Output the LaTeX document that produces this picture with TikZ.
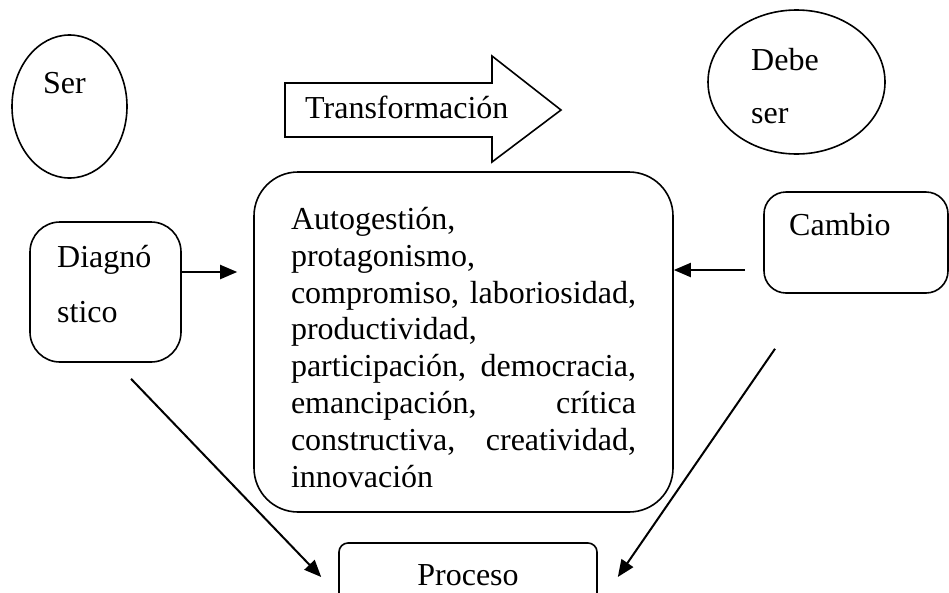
\documentclass[tikz,border=0pt]{standalone}
\usepackage{fontspec}
\setmainfont{Liberation Serif}
\usetikzlibrary{arrows.meta,shapes.geometric}

\tikzset{
  box/.style={draw, line width=1.6pt, inner sep=0pt},
  oval/.style={draw, ellipse, line width=1.6pt, inner sep=0pt},
  lbl/.style={inner sep=0pt, anchor=base west},
  arr/.style={line width=2pt, -{Triangle[length=17pt,width=14pt]}},
}
\newcommand\fillrow[1]{\makebox[345pt][s]{#1}}

\begin{document}
\begin{tikzpicture}[x=1pt, y=-1pt, font=\fontsize{32}{36.9}\selectfont]
    \useasboundingbox (0,0) rectangle (949,592);
    \clip (0,0) rectangle (949,592);

    \node[oval, minimum width=115pt, minimum height=143pt] (ser) at (69.5,106.5) {};
    \node[lbl] (sertxt) at (43,93) {Ser};
    \node[oval, minimum width=177pt, minimum height=144pt] (debe) at (796.5,82) {};
    \node[lbl] (debetxt) at (751,70) {Debe};
    \node[lbl] (debetxtb) at (751,123) {ser};

    \draw[line width=1.6pt] (285,83) -- (492,83) -- (492,56) -- (561,110) -- (492,162) -- (492,137) -- (285,137) -- cycle;
    \node[lbl] (trans) at (305,118) {Transformación};

    \node[box, rounded corners=44pt, minimum width=419pt, minimum height=340pt, align=left] (main) at (463.5,342)
        {\rule{0pt}{33pt}Autogestión,\\ protagonismo,\\ \fillrow{compromiso, laboriosidad,}\\ productividad,\\
         \fillrow{participación, democracia,}\\ \fillrow{emancipación, crítica}\\
         \fillrow{constructiva, creatividad,}\\ innovación};

    \node[box, rounded corners=30pt, minimum width=151pt, minimum height=140pt] (diag) at (105.5,292) {};
    \node[lbl] (diagtxt) at (57,267) {Diagnó};
    \node[lbl] (diagtxtb) at (57,322) {stico};
    \node[box, rounded corners=22pt, minimum width=184pt, minimum height=101pt] (cambio) at (856,242.5) {};
    \node[lbl] (cambiotxt) at (789,235) {Cambio};
    \node[box, rounded corners=9pt, minimum width=258pt, minimum height=64pt] (proceso) at (468,575) {Proceso};

    \coordinate (dgout) at ([yshift=20pt]diag.east);
    \coordinate (cbout) at ([xshift=-18pt, yshift=-27.5pt]cambio.west);
    \coordinate (dgfoot) at ([xshift=25.5pt, yshift=-16pt]diag.south);
    \coordinate (cbfoot) at ([xshift=-81pt, yshift=-55pt]cambio.south);

    \draw[arr, shorten >=16pt] (dgout) -- (dgout -| main.west);
    \draw[arr] (cbout) -- (cbout -| main.east);
    \draw[arr] (dgfoot) -- ([xshift=-17pt, yshift=-2pt]proceso.west);
    \draw[arr] (cbfoot) -- ([xshift=20pt, yshift=-2pt]proceso.east);
\end{tikzpicture}
\end{document}
